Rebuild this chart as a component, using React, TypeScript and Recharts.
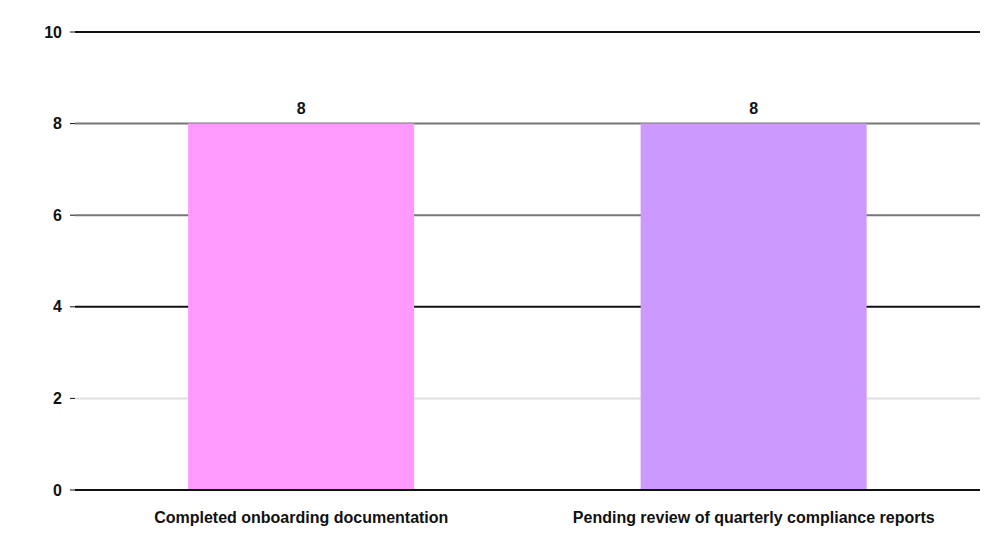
import { BarChart, Bar, XAxis, YAxis, CartesianGrid, LabelList, Cell } from 'recharts';

const categories = ['Completed onboarding documentation', 'Pending review of quarterly compliance reports'];
const counts = [8, 8];
const yTicks = [0, 2, 4, 6, 8, 10];

const barColors = ['#ff99ff', '#cc99ff'];
// grid line shades, bottom (0) to top (10)
const gridShades = ['#111111', '#e0e0e0', '#111111', '#777777', '#777777', '#111111'];

const data = categories.map((name, i) => ({ name, count: counts[i] }));

function GridLine(props: any) {
  const { x1, x2, y1, y2, index, offset } = props;
  // work out the tick from the y position so ordering does not matter
  const frac = (offset.top + offset.height - y1) / offset.height;
  const idx = Math.round(frac * (yTicks.length - 1));
  const stroke = gridShades[idx] ?? '#777777';
  return <line key={`g-${index}`} x1={x1} x2={x2} y1={y1} y2={y2} stroke={stroke} strokeWidth={2} />;
}

const font = { fill: '#111', fontSize: 16, fontWeight: 'bold', fontFamily: 'Liberation Sans' };

export default function App() {
  return (
    <div style={{ width: 981, height: 534, background: '#fff' }}>
      <BarChart
        width={981}
        height={534}
        data={data}
        margin={{ top: 24, right: 9, left: 0, bottom: 12 }}
        barCategoryGap="25%"
      >
        <CartesianGrid vertical={false} horizontal={GridLine} />
        <XAxis
          dataKey="name"
          height={40}
          tick={font}
          tickMargin={16}
          axisLine={{ stroke: '#111', strokeWidth: 2 }}
          tickLine={false}
        />
        <YAxis
          domain={[0, 10]}
          ticks={yTicks}
          width={67}
          tick={font}
          tickMargin={8}
          axisLine={false}
          tickLine={{ stroke: '#111' }}
          tickSize={5}
        />
        <Bar dataKey="count" isAnimationActive={false}>
          {data.map((d, i) => (
            <Cell key={d.name} fill={barColors[i]} />
          ))}
          <LabelList
            dataKey="count"
            position="top"
            offset={10}
            fill="#111"
            fontSize={16}
            fontWeight="bold"
            fontFamily="Liberation Sans"
          />
        </Bar>
      </BarChart>
    </div>
  );
}
